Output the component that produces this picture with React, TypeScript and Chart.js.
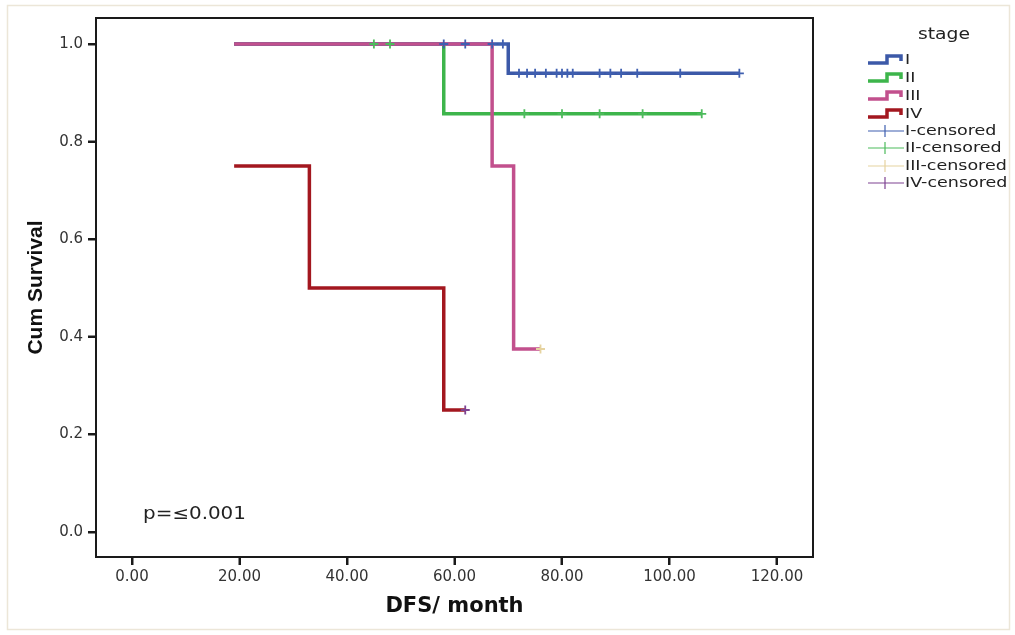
import React, { useEffect, useRef } from 'react';
import { Chart, registerables } from 'chart.js';

Chart.register(...registerables);

// ---- axis ticks ----
const xTickValues = [0, 20, 40, 60, 80, 100, 120];
const yTickValues = [0, 0.2, 0.4, 0.6, 0.8, 1.0];

// ---- Kaplan-Meier step curves (time, cumulative survival) ----
const stageITime = [19, 70, 113];
const stageISurv = [1.0, 0.94, 0.94];
const stageIITime = [19, 58, 106];
const stageIISurv = [1.0, 0.857, 0.857];
const stageIIITime = [19, 67, 71, 76];
const stageIIISurv = [1.0, 0.75, 0.375, 0.375];
const stageIVTime = [19, 33, 58, 62];
const stageIVSurv = [0.75, 0.5, 0.25, 0.25];

// ---- censored observations ----
const censITime = [58, 62, 67, 69, 72, 73.5, 75, 77, 79, 80, 81, 82, 87, 89, 91, 94, 102, 113];
const censISurv = [1, 1, 1, 1, 0.94, 0.94, 0.94, 0.94, 0.94, 0.94, 0.94, 0.94, 0.94, 0.94, 0.94, 0.94, 0.94, 0.94];
const censIITime = [45, 48, 73, 80, 87, 95, 106];
const censIISurv = [1, 1, 0.857, 0.857, 0.857, 0.857, 0.857];
const censIIITime = [76];
const censIIISurv = [0.375];
const censIVTime = [62];
const censIVSurv = [0.25];

const stageLabels = ['I', 'II', 'III', 'IV'];
const censLabels = ['I-censored', 'II-censored', 'III-censored', 'IV-censored'];
const stageColors = ['#3C59A8', '#3DB54B', '#C2508D', '#A3171F'];
const censColors = ['#3F5FB0', '#4DBB5C', '#E6D3A0', '#7E4392'];

const pts = (t: number[], s: number[]) => t.map((x, i) => ({ x, y: s[i] }));

const decorPlugin = {
  id: 'decor',
  beforeDraw(chart: any) {
    const ctx = chart.ctx;
    ctx.save();
    ctx.strokeStyle = '#ECE6D8';
    ctx.lineWidth = 1.5;
    ctx.strokeRect(7.5, 5.5, 1002, 624);
    ctx.restore();
  },
  afterDatasetsDraw(chart: any) {
    const ctx = chart.ctx;
    const a = chart.chartArea;
    const xs = chart.scales.x;
    const ys = chart.scales.y;
    ctx.save();
    // frame
    ctx.strokeStyle = '#1a1a1a';
    ctx.lineWidth = 2;
    ctx.strokeRect(a.left, a.top, a.right - a.left, a.bottom - a.top);
    // tick marks
    ctx.lineWidth = 2;
    ctx.beginPath();
    xTickValues.forEach((v) => {
      const p = Math.round(xs.getPixelForValue(v));
      ctx.moveTo(p, a.bottom);
      ctx.lineTo(p, a.bottom + 8);
    });
    yTickValues.forEach((v) => {
      const p = Math.round(ys.getPixelForValue(v));
      ctx.moveTo(a.left, p);
      ctx.lineTo(a.left - 8, p);
    });
    ctx.stroke();

    // p-value annotation
    ctx.fillStyle = '#222';
    ctx.font = '17px "DejaVu Sans"';
    ctx.textBaseline = 'middle';
    ctx.textAlign = 'left';
    const px = xs.getPixelForValue(2.05);
    const py = ys.getPixelForValue(0.035);
    ctx.save();
    ctx.translate(px, py);
    ctx.scale(1.17, 1);
    ctx.fillText('p=≤0.001', 0, 0);
    ctx.restore();

    // legend
    const lx = a.right + 55;
    ctx.fillStyle = '#222';
    ctx.font = '15px "DejaVu Sans"';
    ctx.textAlign = 'center';
    ctx.save();
    ctx.translate(a.right + 131, 35);
    ctx.scale(1.25, 1);
    ctx.fillText('stage', 0, 0);
    ctx.restore();

    const rowsStage = [60, 78, 96, 114];
    const rowsCens = [131, 148, 166, 183];
    ctx.textAlign = 'left';
    ctx.font = '14px "DejaVu Sans"';
    stageLabels.forEach((lab, i) => {
      const y = rowsStage[i];
      ctx.strokeStyle = stageColors[i];
      ctx.lineWidth = 3.5;
      ctx.lineJoin = 'miter';
      ctx.beginPath();
      ctx.moveTo(lx, y + 3);
      ctx.lineTo(lx + 19, y + 3);
      ctx.lineTo(lx + 19, y - 4);
      ctx.lineTo(lx + 33, y - 4);
      ctx.lineTo(lx + 33, y + 1);
      ctx.stroke();
      ctx.save();
      ctx.translate(lx + 37, y);
      ctx.scale(1.25, 1);
      ctx.fillStyle = '#222';
      ctx.fillText(lab, 0, 0);
      ctx.restore();
    });
    censLabels.forEach((lab, i) => {
      const y = rowsCens[i];
      ctx.strokeStyle = censColors[i];
      ctx.lineWidth = 1.2;
      ctx.beginPath();
      ctx.moveTo(lx, y);
      ctx.lineTo(lx + 36, y);
      ctx.moveTo(lx + 17, y - 6);
      ctx.lineTo(lx + 17, y + 6);
      ctx.stroke();
      ctx.save();
      ctx.translate(lx + 37, y);
      ctx.scale(1.25, 1);
      ctx.fillStyle = '#222';
      ctx.fillText(lab, 0, 0);
      ctx.restore();
    });
    ctx.restore();
  },
};

export default function App() {
  const canvasRef = useRef<HTMLCanvasElement | null>(null);

  useEffect(() => {
    if (!canvasRef.current) return;
    const stepTimes = [stageITime, stageIITime, stageIIITime, stageIVTime];
    const stepSurv = [stageISurv, stageIISurv, stageIIISurv, stageIVSurv];
    const stepOrder = [4, 5, 3, 3];
    const censT = [censITime, censIITime, censIIITime, censIVTime];
    const censS = [censISurv, censIISurv, censIIISurv, censIVSurv];

    const datasets: any[] = [];
    stageLabels.forEach((lab, i) => {
      datasets.push({
        label: lab,
        data: pts(stepTimes[i], stepSurv[i]),
        borderColor: stageColors[i],
        backgroundColor: stageColors[i],
        borderWidth: 3.5,
        stepped: true,
        pointRadius: 0,
        fill: false,
        order: stepOrder[i],
      });
    });
    censLabels.forEach((lab, i) => {
      datasets.push({
        label: lab,
        data: pts(censT[i], censS[i]),
        borderColor: censColors[i],
        backgroundColor: censColors[i],
        showLine: false,
        pointStyle: 'cross',
        pointRadius: 4.5,
        pointBorderWidth: 1.8,
        order: 1,
      });
    });

    const chart = new Chart(canvasRef.current, {
      type: 'line',
      data: { datasets },
      options: {
        animation: false,
        responsive: false,
        devicePixelRatio: 1,
        layout: { padding: { left: 0, right: 202, top: 18, bottom: 8 } },
        plugins: { legend: { display: false }, tooltip: { enabled: false } },
        scales: {
          x: {
            type: 'linear',
            min: -6.7,
            max: 126.7,
            afterBuildTicks: (s: any) => {
              s.ticks = xTickValues.map((v) => ({ value: v }));
            },
            afterFit: (s: any) => {
              s.height = 70;
            },
            ticks: {
              callback: (v: any) => Number(v).toFixed(2),
              font: { family: '"DejaVu Sans"', size: 15 },
              color: '#333',
              padding: 3,
              maxRotation: 0,
              autoSkip: false,
            },
            grid: {
              display: true,
              drawOnChartArea: false,
              drawTicks: true,
              tickLength: 8,
              tickColor: '#1a1a1a',
              tickWidth: 2,
            },
            border: { display: false },
            title: {
              display: true,
              text: 'DFS/ month',
              font: { family: '"DejaVu Sans"', size: 21, weight: 'bold' },
              color: '#111',
              padding: { top: 0, bottom: 8 },
            },
          },
          y: {
            type: 'linear',
            min: -0.0512,
            max: 1.0533,
            afterBuildTicks: (s: any) => {
              s.ticks = yTickValues.map((v) => ({ value: v }));
            },
            afterFit: (s: any) => {
              s.width = 96;
            },
            ticks: {
              callback: (v: any) => Number(v).toFixed(1),
              font: { family: '"DejaVu Sans"', size: 15 },
              color: '#333',
              padding: 5,
              autoSkip: false,
            },
            grid: {
              display: true,
              drawOnChartArea: false,
              drawTicks: true,
              tickLength: 8,
              tickColor: '#1a1a1a',
              tickWidth: 2,
            },
            border: { display: false },
            title: {
              display: true,
              text: 'Cum Survival',
              font: { family: '"Liberation Sans"', size: 21, weight: 'bold' },
              color: '#111',
              padding: { top: 24, bottom: 0 },
            },
          },
        },
      },
      plugins: [decorPlugin],
    } as any);
    return () => chart.destroy();
  }, []);

  return (
    <div style={{ position: 'absolute', left: 0, top: 0, width: 1015, height: 635, background: '#fff' }}>
      <canvas ref={canvasRef} width={1015} height={635} style={{ width: 1015, height: 635, display: 'block' }} />
    </div>
  );
}
